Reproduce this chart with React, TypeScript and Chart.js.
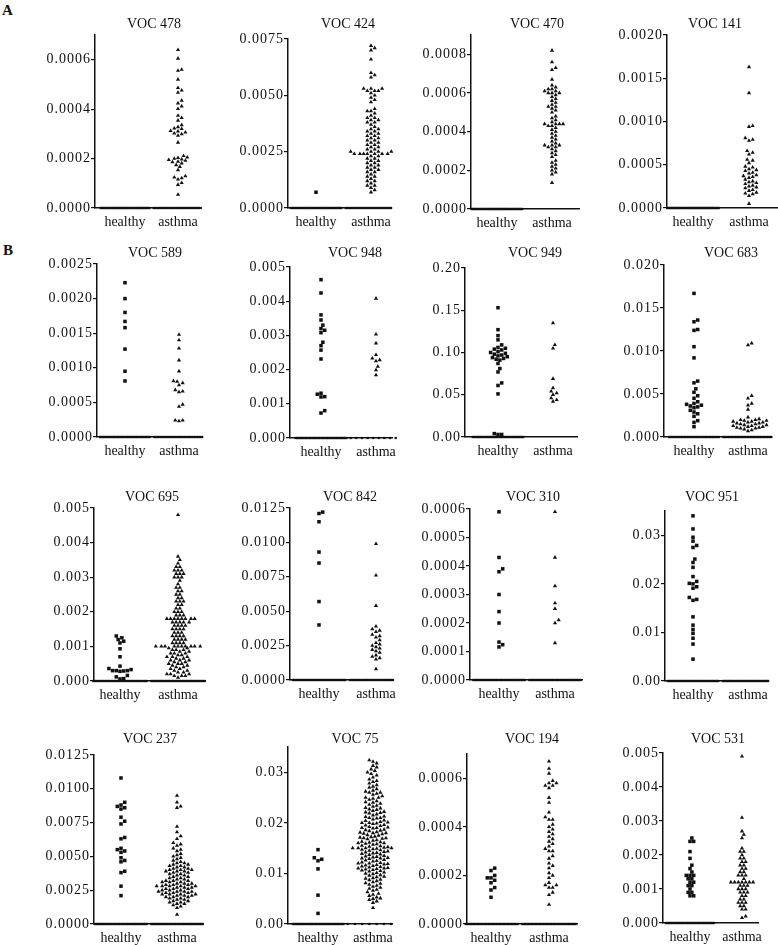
import React, { useEffect, useRef } from 'react';
import { Chart, registerables } from 'chart.js';

Chart.register(...registerables);

const FONT = '"Liberation Serif", "Times New Roman", Times, serif';
const INK = '#111111';

const categories = ['healthy', 'asthma'];

// ---- VOC 478 ----
const voc478Healthy: number[] = [];
const voc478Asthma = [0.00064, 0.000605, 0.00056, 0.000556, 0.00052, 0.000486, 0.000476, 0.000467, 0.000435, 0.000424, 0.000412, 0.000401, 0.000374, 0.000365, 0.000354, 0.000336, 0.000328, 0.000322, 0.00032, 0.000312, 0.00031, 0.000306, 0.000302, 0.000299, 0.000293, 0.000265, 0.000211, 0.000205, 0.000203, 0.0002, 0.000197, 0.000195, 0.000192, 0.000188, 0.000186, 0.000181, 0.000174, 0.000167, 0.000154, 0.000129, 0.000124, 0.000121, 0.000116, 0.000102, 0.000094, 0.000054];
const voc478Zeros = [40, 30];
const voc478Ticks = ['0.0000', '0.0002', '0.0004', '0.0006'];

// ---- VOC 424 ----
const voc424Healthy = [0.0007];
const voc424Asthma = [0.0072, 0.0071, 0.0070, 0.0066, 0.0060, 0.0059, 0.0058, 0.0053, 0.0053, 0.0053, 0.0052, 0.0052, 0.0052, 0.0051, 0.0050, 0.0049, 0.0048, 0.0047, 0.0044, 0.0043, 0.0043, 0.0042, 0.0041, 0.0040, 0.0040, 0.0039, 0.0039, 0.0038, 0.0038, 0.0037, 0.0036, 0.0035, 0.0035, 0.0034, 0.0034, 0.0033, 0.0033, 0.0032, 0.0032, 0.0031, 0.0031, 0.0030, 0.0030, 0.0029, 0.0029, 0.0028, 0.0028, 0.0027, 0.0027, 0.0026, 0.0026, 0.0025, 0.0025, 0.0025, 0.0025, 0.0024, 0.0024, 0.0024, 0.0024, 0.0024, 0.0024, 0.0024, 0.0023, 0.0023, 0.0022, 0.0022, 0.0021, 0.0021, 0.0020, 0.0020, 0.0019, 0.0019, 0.0018, 0.0018, 0.0017, 0.0017, 0.0016, 0.0016, 0.0015, 0.0014, 0.0014, 0.0013, 0.0012, 0.0012, 0.0011, 0.0010, 0.0010, 0.0009, 0.0008, 0.0007];
const voc424Zeros = [40, 30];
const voc424Ticks = ['0.0000', '0.0025', '0.0050', '0.0075'];

// ---- VOC 470 ----
const voc470Healthy: number[] = [];
const voc470Asthma = [0.00082, 0.00076, 0.00073, 0.00072, 0.00067, 0.00064, 0.00063, 0.00062, 0.00062, 0.00061, 0.00061, 0.0006, 0.0006, 0.0006, 0.00059, 0.00058, 0.00057, 0.00056, 0.00055, 0.00054, 0.00053, 0.00053, 0.00052, 0.00051, 0.0005, 0.00048, 0.00047, 0.00046, 0.00045, 0.00044, 0.00044, 0.00044, 0.00044, 0.00043, 0.00043, 0.00042, 0.00041, 0.0004, 0.00039, 0.00038, 0.00037, 0.00036, 0.00035, 0.00034, 0.00033, 0.00033, 0.00033, 0.00032, 0.00032, 0.00031, 0.0003, 0.00029, 0.00028, 0.00027, 0.00025, 0.00024, 0.00023, 0.00022, 0.00021, 0.0002, 0.00019, 0.00018, 0.000135];
const voc470Zeros = [50, 0];
const voc470Ticks = ['0.0000', '0.0002', '0.0004', '0.0006', '0.0008'];

// ---- VOC 141 ----
const voc141Healthy: number[] = [];
const voc141Asthma = [0.00163, 0.00133, 0.00095, 0.00094, 0.00081, 0.00079, 0.00078, 0.00066, 0.00064, 0.00062, 0.00056, 0.00055, 0.00052, 0.00048, 0.00047, 0.00045, 0.00044, 0.00043, 0.00041, 0.0004, 0.00038, 0.00037, 0.00036, 0.00035, 0.00033, 0.00031, 0.0003, 0.00029, 0.00028, 0.00026, 0.00025, 0.00024, 0.00023, 0.00021, 0.0002, 0.00018, 0.00017, 0.00016, 0.00014, 0.00005];
const voc141Zeros = [50, 0];
const voc141Ticks = ['0.0000', '0.0005', '0.0010', '0.0015', '0.0020'];

// ---- VOC 589 ----
const voc589Healthy = [0.00223, 0.002, 0.0018, 0.00167, 0.00158, 0.00127, 0.00095, 0.00081];
const voc589Asthma = [0.00148, 0.0014, 0.00128, 0.00111, 0.00095, 0.00081, 0.0008, 0.00078, 0.00075, 0.00068, 0.00066, 0.00065, 0.00047, 0.00044, 0.00024, 0.00024, 0.00023];
const voc589Zeros = [40, 30];
const voc589Ticks = ['0.0000', '0.0005', '0.0010', '0.0015', '0.0020', '0.0025'];

// ---- VOC 948 ----
const voc948Healthy = [0.00463, 0.00424, 0.0036, 0.00345, 0.0033, 0.0032, 0.00315, 0.00308, 0.0028, 0.0027, 0.00257, 0.00231, 0.00131, 0.00128, 0.00121, 0.0012, 0.0008, 0.00073];
const voc948Asthma = [0.00408, 0.00303, 0.00277, 0.00243, 0.00233, 0.00228, 0.00225, 0.00209, 0.00199, 0.00184];
const voc948Zeros = [40, 10];
const voc948Ticks = ['0.000', '0.001', '0.002', '0.003', '0.004', '0.005'];

// ---- VOC 949 ----
const voc949Healthy = [0.153, 0.127, 0.12, 0.115, 0.109, 0.106, 0.105, 0.104, 0.103, 0.101, 0.1, 0.099, 0.098, 0.097, 0.096, 0.095, 0.094, 0.093, 0.092, 0.091, 0.087, 0.081, 0.077, 0.064, 0.061, 0.051, 0.004, 0.003, 0.003];
const voc949Asthma = [0.135, 0.109, 0.105, 0.069, 0.058, 0.054, 0.052, 0.05, 0.046, 0.044, 0.042];
const voc949Zeros = [40, 0];
const voc949Ticks = ['0.00', '0.05', '0.10', '0.15', '0.20'];

// ---- VOC 683 ----
const voc683Healthy = [0.0167, 0.0136, 0.0134, 0.0125, 0.0124, 0.0105, 0.0092, 0.0065, 0.0063, 0.0056, 0.0052, 0.0048, 0.0045, 0.0041, 0.0039, 0.0038, 0.0037, 0.0036, 0.0035, 0.0034, 0.0031, 0.0029, 0.0027, 0.0024, 0.0019, 0.0017, 0.0012];
const voc683Asthma = [0.0109, 0.0107, 0.0048, 0.0045, 0.0039, 0.0037, 0.0032, 0.0023, 0.0021, 0.002, 0.002, 0.0019, 0.0019, 0.0018, 0.0018, 0.0017, 0.0017, 0.0016, 0.0016, 0.0015, 0.0015, 0.0014, 0.0014, 0.0013, 0.0013, 0.0012, 0.0012, 0.0011, 0.0011, 0.001, 0.001, 0.0009, 0.0008, 0.0007];
const voc683Zeros = [35, 35];
const voc683Ticks = ['0.000', '0.005', '0.010', '0.015', '0.020'];

// ---- VOC 695 ----
const voc695Healthy = [0.0013, 0.00125, 0.0012, 0.00115, 0.0011, 0.00093, 0.0007, 0.00043, 0.00036, 0.00033, 0.0003, 0.0003, 0.0003, 0.00029, 0.00028, 0.00016, 0.00012, 0.00007, 0.00006];
const voc695Asthma = [0.0048, 0.0036, 0.0035, 0.0034, 0.0033, 0.0033, 0.0032, 0.0032, 0.0032, 0.0031, 0.0031, 0.0031, 0.0030, 0.0030, 0.0030, 0.0029, 0.0028, 0.0027, 0.0027, 0.0026, 0.0026, 0.0025, 0.0025, 0.0024, 0.0024, 0.0023, 0.0023, 0.0023, 0.0022, 0.0022, 0.0021, 0.0021, 0.0020, 0.0020, 0.0020, 0.0019, 0.0019, 0.0019, 0.0018, 0.0018, 0.0018, 0.0018, 0.0018, 0.0018, 0.0018, 0.0018, 0.0017, 0.0017, 0.0017, 0.0017, 0.0017, 0.0016, 0.0016, 0.0016, 0.0016, 0.0015, 0.0015, 0.0015, 0.0015, 0.0014, 0.0014, 0.0014, 0.0013, 0.0013, 0.0013, 0.0013, 0.0012, 0.0012, 0.0012, 0.0012, 0.0011, 0.0011, 0.0011, 0.0011, 0.0010, 0.0010, 0.0010, 0.0010, 0.0010, 0.0010, 0.0010, 0.0010, 0.0010, 0.0010, 0.00095, 0.00095, 0.0009, 0.0009, 0.0009, 0.00085, 0.00085, 0.0008, 0.0008, 0.0008, 0.00075, 0.00075, 0.0007, 0.0007, 0.0007, 0.00065, 0.00065, 0.0006, 0.0006, 0.0006, 0.00055, 0.00055, 0.0005, 0.0005, 0.0005, 0.00045, 0.00045, 0.0004, 0.0004, 0.00035, 0.00035, 0.0003, 0.0003, 0.00025, 0.00025, 0.0002, 0.0002, 0.0002, 0.00015, 0.00015, 0.00015, 0.0001];
const voc695Zeros = [35, 40];
const voc695Ticks = ['0.000', '0.001', '0.002', '0.003', '0.004', '0.005'];

// ---- VOC 842 ----
const voc842Healthy = [0.0122, 0.0121, 0.0115, 0.0093, 0.0085, 0.0057, 0.004];
const voc842Asthma = [0.0099, 0.0076, 0.0054, 0.0039, 0.0037, 0.0036, 0.0035, 0.0033, 0.0032, 0.0031, 0.0029, 0.0027, 0.0026, 0.0025, 0.0024, 0.0023, 0.0022, 0.0021, 0.002, 0.0018, 0.0017, 0.0016, 0.0015, 0.0008];
const voc842Zeros = [40, 35];
const voc842Ticks = ['0.0000', '0.0025', '0.0050', '0.0075', '0.0100', '0.0125'];

// ---- VOC 310 ----
const voc310Healthy = [0.00059, 0.00043, 0.00039, 0.00038, 0.0003, 0.00024, 0.0002, 0.000133, 0.000124, 0.000116];
const voc310Asthma = [0.00059, 0.00043, 0.00033, 0.00027, 0.00025, 0.00021, 0.0002, 0.00013];
const voc310Zeros = [40, 40];
const voc310Ticks = ['0.0000', '0.0001', '0.0002', '0.0003', '0.0004', '0.0005', '0.0006'];

// ---- VOC 951 ----
const voc951Healthy = [0.034, 0.0313, 0.0296, 0.0288, 0.0279, 0.0275, 0.0251, 0.0244, 0.0234, 0.0215, 0.0205, 0.0201, 0.02, 0.0194, 0.0191, 0.0172, 0.0168, 0.0166, 0.0132, 0.0115, 0.0106, 0.0098, 0.0088, 0.0076, 0.0045];
const voc951Asthma: number[] = [];
const voc951Zeros = [40, 40];
const voc951Ticks = ['0.00', '0.01', '0.02', '0.03'];

// ---- VOC 237 ----
const voc237Healthy = [0.0108, 0.009, 0.0088, 0.0087, 0.0086, 0.0085, 0.0079, 0.0076, 0.0074, 0.0064, 0.0063, 0.0056, 0.0055, 0.0054, 0.0053, 0.0049, 0.0047, 0.0046, 0.0039, 0.0038, 0.0028, 0.0021];
const voc237Asthma = [0.0095, 0.009, 0.0087, 0.0086, 0.0072, 0.0068, 0.0065, 0.0063, 0.006, 0.0059, 0.0058, 0.0056, 0.0055, 0.0054, 0.0052, 0.0051, 0.005, 0.0049, 0.0048, 0.0047, 0.0046, 0.0045, 0.0045, 0.0044, 0.0044, 0.0043, 0.0043, 0.0042, 0.0042, 0.0041, 0.0041, 0.004, 0.004, 0.004, 0.0039, 0.0039, 0.0039, 0.0038, 0.0038, 0.0037, 0.0037, 0.0036, 0.0036, 0.0035, 0.0035, 0.0034, 0.0034, 0.0033, 0.0033, 0.0032, 0.0032, 0.0032, 0.0031, 0.0031, 0.0031, 0.003, 0.003, 0.003, 0.0029, 0.0029, 0.0029, 0.0028, 0.0028, 0.0028, 0.0028, 0.0028, 0.0027, 0.0027, 0.0027, 0.0026, 0.0026, 0.0026, 0.0025, 0.0025, 0.0025, 0.0024, 0.0024, 0.0024, 0.0024, 0.0023, 0.0023, 0.0023, 0.0022, 0.0022, 0.0022, 0.0022, 0.0021, 0.0021, 0.0021, 0.002, 0.002, 0.002, 0.0019, 0.0019, 0.0018, 0.0018, 0.0017, 0.0017, 0.0016, 0.0016, 0.0015, 0.0015, 0.0014, 0.0013, 0.0012, 0.0007];
const voc237Zeros = [40, 40];
const voc237Ticks = ['0.0000', '0.0025', '0.0050', '0.0075', '0.0100', '0.0125'];

// ---- VOC 75 ----
const voc75Healthy = [0.0147, 0.0131, 0.0128, 0.0125, 0.0109, 0.0057, 0.0021];
const voc75Asthma = [0.0324, 0.0321, 0.0318, 0.0313, 0.031, 0.0306, 0.0303, 0.03, 0.0297, 0.0294, 0.029, 0.0286, 0.0283, 0.0281, 0.0278, 0.0275, 0.0272, 0.027, 0.0267, 0.0264, 0.0262, 0.026, 0.026, 0.0258, 0.0256, 0.0253, 0.025, 0.025, 0.0248, 0.0246, 0.0243, 0.0241, 0.024, 0.0238, 0.0236, 0.0234, 0.0232, 0.023, 0.0229, 0.0227, 0.0226, 0.0224, 0.0222, 0.0221, 0.022, 0.0219, 0.0217, 0.0215, 0.0213, 0.0212, 0.021, 0.021, 0.0209, 0.0207, 0.0205, 0.0204, 0.0202, 0.0201, 0.02, 0.02, 0.0199, 0.0198, 0.0196, 0.0195, 0.0194, 0.0192, 0.0191, 0.019, 0.019, 0.0189, 0.0187, 0.0186, 0.0185, 0.0184, 0.0182, 0.0181, 0.018, 0.018, 0.0179, 0.0178, 0.0176, 0.0175, 0.0173, 0.0172, 0.0171, 0.017, 0.017, 0.0169, 0.0168, 0.0166, 0.0165, 0.0163, 0.0162, 0.0161, 0.016, 0.016, 0.0159, 0.0158, 0.0157, 0.0155, 0.0154, 0.0153, 0.0152, 0.0151, 0.015, 0.015, 0.015, 0.015, 0.0149, 0.0148, 0.0147, 0.0146, 0.0145, 0.0144, 0.0143, 0.0142, 0.0141, 0.014, 0.0139, 0.0138, 0.0137, 0.0135, 0.0134, 0.0133, 0.0132, 0.0131, 0.013, 0.013, 0.0129, 0.0127, 0.0126, 0.0125, 0.0124, 0.0122, 0.0121, 0.012, 0.012, 0.0119, 0.0118, 0.0117, 0.0116, 0.0115, 0.0114, 0.0113, 0.0112, 0.0111, 0.011, 0.011, 0.0109, 0.0108, 0.0107, 0.0106, 0.0105, 0.0104, 0.0102, 0.0101, 0.01, 0.0099, 0.0097, 0.0096, 0.0094, 0.0093, 0.0091, 0.009, 0.0088, 0.0087, 0.0085, 0.0083, 0.0081, 0.008, 0.0078, 0.0076, 0.0074, 0.0072, 0.007, 0.0068, 0.0066, 0.0063, 0.006, 0.0058, 0.0056, 0.0053, 0.0051, 0.005, 0.0048, 0.0045, 0.0042, 0.0032];
const voc75Zeros = [40, 8];
const voc75Ticks = ['0.00', '0.01', '0.02', '0.03'];

// ---- VOC 194 ----
const voc194Healthy = [0.00023, 0.00022, 0.0002, 0.00019, 0.00019, 0.00018, 0.00017, 0.00015, 0.00014, 0.00011];
const voc194Asthma = [0.00067, 0.00064, 0.00062, 0.00059, 0.00058, 0.00058, 0.00057, 0.00057, 0.00056, 0.00052, 0.0005, 0.00046, 0.00044, 0.00043, 0.00043, 0.00041, 0.0004, 0.00039, 0.00038, 0.00037, 0.00036, 0.00035, 0.00034, 0.00033, 0.00032, 0.00031, 0.0003, 0.0003, 0.00028, 0.00027, 0.00025, 0.00024, 0.00023, 0.00021, 0.0002, 0.00019, 0.00017, 0.00016, 0.00016, 0.00015, 0.00015, 0.00013, 0.00012, 0.00008];
const voc194Zeros = [40, 40];
const voc194Ticks = ['0.0000', '0.0002', '0.0004', '0.0006'];

// ---- VOC 531 ----
const voc531Healthy = [0.0025, 0.0024, 0.0024, 0.0021, 0.0019, 0.0017, 0.0016, 0.0015, 0.0014, 0.0014, 0.0014, 0.0013, 0.0013, 0.0012, 0.0012, 0.0011, 0.0011, 0.001, 0.0009, 0.0009, 0.0008, 0.0008];
const voc531Asthma = [0.0049, 0.0031, 0.0027, 0.0026, 0.0025, 0.0022, 0.0021, 0.0021, 0.002, 0.0019, 0.0019, 0.0018, 0.0018, 0.0017, 0.0017, 0.0016, 0.0016, 0.0015, 0.0015, 0.0014, 0.0014, 0.0014, 0.0013, 0.0012, 0.0012, 0.0012, 0.0012, 0.0012, 0.0012, 0.0012, 0.0011, 0.0011, 0.0011, 0.001, 0.001, 0.001, 0.0009, 0.0009, 0.0009, 0.0008, 0.0008, 0.0007, 0.0007, 0.0006, 0.0006, 0.0006, 0.0005, 0.0005, 0.0004, 0.0004, 0.0002, 0.00015];
const voc531Zeros = [40, 0];
const voc531Ticks = ['0.000', '0.001', '0.002', '0.003', '0.004', '0.005'];

type Panel = {
  title: string;
  healthy: number[];
  asthma: number[];
  zeros: number[];
  ticks: string[];
  max: number;
  axisX: number; right: number; hX: number; aX: number;
  top: number; bottom: number; titleX: number; titleY: number;
};

const panels: Panel[] = [
  { title: 'VOC 478', healthy: voc478Healthy, asthma: voc478Asthma, zeros: voc478Zeros, ticks: voc478Ticks, max: 0.0007, axisX: 95, right: 200, hX: 125, aX: 178, top: 35, bottom: 208, titleX: 154, titleY: 24 },
  { title: 'VOC 424', healthy: voc424Healthy, asthma: voc424Asthma, zeros: voc424Zeros, ticks: voc424Ticks, max: 0.0075, axisX: 288, right: 390, hX: 316, aX: 371, top: 39, bottom: 208, titleX: 348, titleY: 24 },
  { title: 'VOC 470', healthy: voc470Healthy, asthma: voc470Asthma, zeros: voc470Zeros, ticks: voc470Ticks, max: 0.0009, axisX: 471, right: 579, hX: 497, aX: 552, top: 35, bottom: 209, titleX: 537, titleY: 24 },
  { title: 'VOC 141', healthy: voc141Healthy, asthma: voc141Asthma, zeros: voc141Zeros, ticks: voc141Ticks, max: 0.002, axisX: 667, right: 777, hX: 693, aX: 749, top: 35, bottom: 208, titleX: 715, titleY: 24 },
  { title: 'VOC 589', healthy: voc589Healthy, asthma: voc589Asthma, zeros: voc589Zeros, ticks: voc589Ticks, max: 0.0025, axisX: 97, right: 201, hX: 125, aX: 179, top: 264, bottom: 437, titleX: 155, titleY: 253 },
  { title: 'VOC 948', healthy: voc948Healthy, asthma: voc948Asthma, zeros: voc948Zeros, ticks: voc948Ticks, max: 0.005, axisX: 290, right: 392, hX: 321, aX: 376, top: 267, bottom: 438, titleX: 355, titleY: 253 },
  { title: 'VOC 949', healthy: voc949Healthy, asthma: voc949Asthma, zeros: voc949Zeros, ticks: voc949Ticks, max: 0.2, axisX: 465, right: 577, hX: 498, aX: 553, top: 268, bottom: 437, titleX: 535, titleY: 253 },
  { title: 'VOC 683', healthy: voc683Healthy, asthma: voc683Asthma, zeros: voc683Zeros, ticks: voc683Ticks, max: 0.02, axisX: 664, right: 771, hX: 694, aX: 748, top: 265, bottom: 437, titleX: 731, titleY: 253 },
  { title: 'VOC 695', healthy: voc695Healthy, asthma: voc695Asthma, zeros: voc695Zeros, ticks: voc695Ticks, max: 0.005, axisX: 94, right: 205, hX: 120, aX: 178, top: 508, bottom: 681, titleX: 152, titleY: 497 },
  { title: 'VOC 842', healthy: voc842Healthy, asthma: voc842Asthma, zeros: voc842Zeros, ticks: voc842Ticks, max: 0.0125, axisX: 290, right: 392, hX: 319, aX: 376, top: 508, bottom: 680, titleX: 350, titleY: 497 },
  { title: 'VOC 310', healthy: voc310Healthy, asthma: voc310Asthma, zeros: voc310Zeros, ticks: voc310Ticks, max: 0.0006, axisX: 470, right: 582, hX: 499, aX: 555, top: 509, bottom: 680, titleX: 533, titleY: 497 },
  { title: 'VOC 951', healthy: voc951Healthy, asthma: voc951Asthma, zeros: voc951Zeros, ticks: voc951Ticks, max: 0.035, axisX: 665, right: 767, hX: 693, aX: 748, top: 511, bottom: 681, titleX: 712, titleY: 497 },
  { title: 'VOC 237', healthy: voc237Healthy, asthma: voc237Asthma, zeros: voc237Zeros, ticks: voc237Ticks, max: 0.0125, axisX: 94, right: 203, hX: 121, aX: 177, top: 755, bottom: 924, titleX: 150, titleY: 739 },
  { title: 'VOC 75', healthy: voc75Healthy, asthma: voc75Asthma, zeros: voc75Zeros, ticks: voc75Ticks, max: 0.035, axisX: 288, right: 392, hX: 318, aX: 373, top: 747, bottom: 924, titleX: 355, titleY: 739 },
  { title: 'VOC 194', healthy: voc194Healthy, asthma: voc194Asthma, zeros: voc194Zeros, ticks: voc194Ticks, max: 0.0007, axisX: 467, right: 577, hX: 491, aX: 549, top: 754, bottom: 924, titleX: 532, titleY: 739 },
  { title: 'VOC 531', healthy: voc531Healthy, asthma: voc531Asthma, zeros: voc531Zeros, ticks: voc531Ticks, max: 0.005, axisX: 663, right: 758, hX: 690, aX: 742, top: 753, bottom: 923, titleX: 718, titleY: 739 },
];

// Beeswarm layout: each value keeps its own y; x goes to the nearest free slot beside the category centre.
function swarm(values: number[], max: number, plotH: number, unitPx: number, center: number) {
  const D = 3.7;
  const step = D / 2;
  const limit = 0.44 * unitPx;
  const order = values.map((_, i) => i).sort((a, b) => values[a] - values[b]);
  const placed: [number, number][] = [];
  const xs: number[] = new Array(values.length).fill(center);
  for (const i of order) {
    const py = (values[i] / max) * plotH;
    let best = 0;
    let bestScore = -1;
    for (let k = 0; ; k++) {
      const off = (k % 2 === 1 ? 1 : -1) * Math.ceil(k / 2) * step;
      if (Math.abs(off) > limit) break;
      let minD = Infinity;
      for (const [qx, qy] of placed) {
        const dy = qy - py;
        if (Math.abs(dy) >= D) continue;
        const d = Math.hypot(qx - off, dy);
        if (d < minD) minD = d;
      }
      if (minD >= D) { best = off; bestScore = Infinity; break; }
      if (minD > bestScore) { bestScore = minD; best = off; }
    }
    placed.push([best, py]);
    xs[i] = center + best / unitPx;
  }
  return values.map((v, i) => ({ x: xs[i], y: v }));
}

function zeroRow(n: number, center: number) {
  const halfW = 0.46;
  const pts: { x: number; y: number }[] = [];
  for (let i = 0; i < n; i++) {
    pts.push({ x: center - halfW + (2 * halfW * i) / Math.max(n - 1, 1), y: 0 });
  }
  return pts;
}

const spacingPlugin = {
  id: 'tickSpacing',
  afterDatasetsDraw(chart: any) { chart.ctx.letterSpacing = '1px'; },
  afterDraw(chart: any) { chart.ctx.letterSpacing = '0px'; },
};

const X_H = 26;

function PanelChart({ p }: { p: Panel }) {
  const ref = useRef<HTMLCanvasElement>(null);
  const leftNom = p.axisX - 58;
  const rightNom = p.right + 4;
  const half = Math.ceil(Math.max(p.titleX - leftNom, rightNom - p.titleX));
  const cLeft = p.titleX - half;
  const cW = 2 * half;
  const cTop = p.titleY - 7;
  const cH = p.bottom - cTop + X_H + 4;
  const rightGap = cLeft + cW - p.right;

  useEffect(() => {
    const unit = p.aX - p.hX;
    const xMin = 1 - (p.hX - p.axisX) / unit;
    const xMax = 2 + (p.right - p.aX) / unit;
    const plotH = p.bottom - p.top;
    const tickVals = p.ticks.map(Number);
    const hPts = swarm(p.healthy, p.max, plotH, unit, 1);
    const aPts = swarm(p.asthma, p.max, plotH, unit, 2);
    const zPts = [...zeroRow(p.zeros[0], 1), ...zeroRow(p.zeros[1], 2)];
    const font = { family: FONT, size: 14, weight: 'normal' as const };

    const chart = new Chart(ref.current as HTMLCanvasElement, {
      type: 'scatter',
      data: {
        datasets: [
          { data: zPts, pointStyle: 'rect', pointRadius: 1.6, backgroundColor: INK, borderWidth: 0, clip: false } as any,
          { data: hPts, pointStyle: 'rect', pointRadius: 2.5, backgroundColor: INK, borderWidth: 0, clip: false } as any,
          { data: aPts, pointStyle: 'triangle', pointRadius: 2.4, backgroundColor: INK, borderWidth: 0, clip: false } as any,
        ],
      },
      options: {
        animation: false,
        responsive: false,
        events: [],
        layout: { padding: { left: 0, right: 0, top: 0, bottom: 4 } },
        plugins: {
          legend: { display: false },
          tooltip: { enabled: false },
          title: {
            display: true,
            text: p.title,
            color: INK,
            font: { family: FONT, size: 14, weight: 'normal', lineHeight: 1 },
            padding: { top: 0, bottom: p.top - cTop - 14 },
          },
        },
        scales: {
          x: {
            type: 'linear',
            min: xMin,
            max: xMax,
            afterBuildTicks: (s: any) => { s.ticks = [{ value: 1 }, { value: 2 }]; },
            afterFit: (s: any) => { s.height = X_H; },
            ticks: {
              callback: (_v: any, i: number) => categories[i],
              color: INK,
              font,
              padding: 6,
              autoSkip: false,
              maxRotation: 0,
            },
            grid: { drawOnChartArea: false, drawTicks: false },
            border: { display: true, color: INK, width: 1.5 },
          },
          y: {
            type: 'linear',
            position: 'left',
            min: 0,
            max: p.max,
            afterBuildTicks: (s: any) => { s.ticks = tickVals.map((v) => ({ value: v })); },
            afterFit: (s: any) => { s.width = p.axisX - cLeft; },
            ticks: {
              callback: (_v: any, i: number) => p.ticks[i],
              color: INK,
              font,
              padding: 0,
              autoSkip: false,
              z: 1,
            },
            grid: { drawOnChartArea: false, drawTicks: true, tickLength: 4, color: INK, lineWidth: 1.2 },
            border: { display: true, color: INK, width: 1.5 },
          },
          // empty spacer on the right so the title stays centred on the whole canvas
          gap: {
            type: 'linear',
            position: 'right',
            display: true,
            afterFit: (s: any) => { s.width = rightGap; },
            ticks: { display: false },
            grid: { display: false, drawTicks: false },
            border: { display: false },
          },
        },
      } as any,
      plugins: [spacingPlugin],
    });
    const fonts = (document as any).fonts;
    if (fonts && fonts.load) {
      fonts.load('14px "Liberation Serif"').then(() => { try { chart.update(); } catch (e) { /* destroyed */ } }, () => {});
    }
    return () => chart.destroy();
  }, [p]);

  return (
    <canvas
      ref={ref}
      width={cW}
      height={cH}
      style={{ position: 'absolute', left: cLeft, top: cTop, width: cW, height: cH }}
    />
  );
}

const letterStyle: React.CSSProperties = {
  position: 'absolute',
  fontFamily: FONT,
  fontWeight: 'bold',
  fontSize: 15,
  lineHeight: '15px',
  color: INK,
};

export default function App() {
  return (
    <div
      style={{
        position: 'absolute',
        left: 0,
        top: 0,
        width: 778,
        height: 945,
        overflow: 'hidden',
        background: '#ffffff',
        fontFamily: FONT,
      }}
    >
      <div style={{ ...letterStyle, left: 2, top: 3 }}>A</div>
      <div style={{ ...letterStyle, left: 3, top: 243 }}>B</div>
      {panels.map((p) => (
        <PanelChart key={p.title} p={p} />
      ))}
    </div>
  );
}
